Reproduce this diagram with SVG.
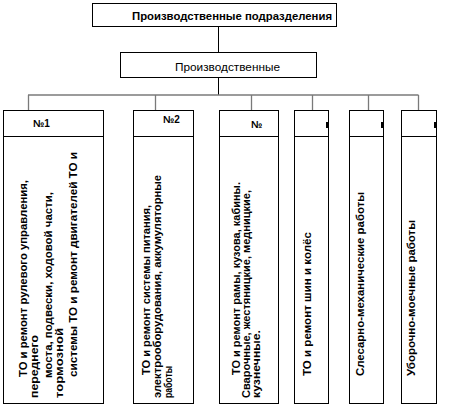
<svg xmlns="http://www.w3.org/2000/svg" width="463" height="409" viewBox="0 0 463 409">
<style>
.box{fill:#fff;stroke:#000;stroke-width:1}
.sep{stroke:#000;stroke-width:1}
.t{font-family:"Liberation Sans",Arial,sans-serif;fill:#000}
.b{font-weight:bold;font-size:10px}
.v{font-weight:bold;font-size:10px}
.r{font-size:11px}
.conn line{stroke:#7a7a7a;stroke-width:1.3}
.conn line.k{stroke:#000;stroke-width:1}
</style>
<rect width="463" height="409" fill="#fff"/>
<g id="connectors" class="conn">
<line class="k" x1="218.5" y1="27" x2="218.5" y2="52"/>
<line class="k" x1="218.5" y1="78" x2="218.5" y2="95"/>
<line x1="28" y1="95" x2="418.5" y2="95"/>
<line x1="28.5" y1="95" x2="28.5" y2="110"/>
<line x1="155.5" y1="95" x2="155.5" y2="110"/>
<line x1="251.5" y1="95" x2="251.5" y2="110"/>
<line x1="312.5" y1="95" x2="312.5" y2="110"/>
<line x1="368.5" y1="95" x2="368.5" y2="110"/>
<line x1="418.5" y1="95" x2="418.5" y2="110"/>
</g>
<g id="top">
<rect class="box" x="92.5" y="3.5" width="244" height="23"/>
<text class="t b" x="132" y="20" textLength="200" lengthAdjust="spacingAndGlyphs">Производственные  подразделения</text>
</g>
<g id="prod">
<rect class="box" x="120.5" y="52.5" width="196" height="25"/>
<text class="t r" x="175" y="71" textLength="105" lengthAdjust="spacingAndGlyphs">Производственные</text>
</g>
<g id="n1">
<rect class="box" x="3.5" y="110.5" width="100" height="293"/>
<line class="sep" x1="3.5" y1="136.5" x2="103.5" y2="136.5"/>
<text class="t b" x="33" y="127">№1</text>
<text class="t v" transform="translate(27,377) rotate(-90)" textLength="197" lengthAdjust="spacingAndGlyphs">ТО и ремонт рулевого управления,</text>
<text class="t v" transform="translate(38,398) rotate(-90)" textLength="63" lengthAdjust="spacingAndGlyphs">переднего</text>
<text class="t v" transform="translate(52,378) rotate(-90)" textLength="186" lengthAdjust="spacingAndGlyphs">моста, подвески, ходовой части,</text>
<text class="t v" transform="translate(63,398) rotate(-90)" textLength="70" lengthAdjust="spacingAndGlyphs">тормозной</text>
<text class="t v" transform="translate(77,377) rotate(-90)" textLength="225" lengthAdjust="spacingAndGlyphs">системы ТО и ремонт двигателей ТО и</text>
</g>
<g id="n2">
<rect class="box" x="133.5" y="110.5" width="60" height="293"/>
<line class="sep" x1="133.5" y1="136.5" x2="193.5" y2="136.5"/>
<text class="t b" x="163" y="123">№2</text>
<text class="t v" transform="translate(150,375) rotate(-90)" textLength="170" lengthAdjust="spacingAndGlyphs">ТО и ремонт системы питания,</text>
<text class="t v" transform="translate(161,398) rotate(-90)" textLength="223" lengthAdjust="spacingAndGlyphs">электрооборудования, аккумуляторные</text>
<text class="t v" transform="translate(172,398) rotate(-90)" textLength="32" lengthAdjust="spacingAndGlyphs">работы</text>
</g>
<g id="n3">
<rect class="box" x="219.5" y="110.5" width="59" height="293"/>
<line class="sep" x1="219.5" y1="136.5" x2="278.5" y2="136.5"/>
<text class="t b" x="251" y="128">№</text>
<text class="t v" transform="translate(240,375) rotate(-90)" textLength="193" lengthAdjust="spacingAndGlyphs">ТО и ремонт рамы, кузова, кабины.</text>
<text class="t v" transform="translate(250,398) rotate(-90)" textLength="208" lengthAdjust="spacingAndGlyphs">Сварочные, жестяницкие, медницкие,</text>
<text class="t v" transform="translate(260,398) rotate(-90)" textLength="68" lengthAdjust="spacingAndGlyphs">кузнечные.</text>
</g>
<g id="n4">
<rect class="box" x="294.5" y="110.5" width="34" height="293"/>
<line class="sep" x1="294.5" y1="136.5" x2="328.5" y2="136.5"/>
<rect x="326" y="122" width="2" height="6" fill="#000"/>
<text class="t v" transform="translate(311,376) rotate(-90)" textLength="144" lengthAdjust="spacingAndGlyphs">ТО и ремонт шин и колёс</text>
</g>
<g id="n5">
<rect class="box" x="349.5" y="110.5" width="34" height="293"/>
<line class="sep" x1="349.5" y1="136.5" x2="383.5" y2="136.5"/>
<rect x="381" y="122" width="2" height="6" fill="#000"/>
<text class="t v" transform="translate(364,376) rotate(-90)" textLength="184" lengthAdjust="spacingAndGlyphs">Слесарно-механические  работы</text>
</g>
<g id="n6">
<rect class="box" x="401.5" y="110.5" width="35" height="293"/>
<line class="sep" x1="401.5" y1="136.5" x2="436.5" y2="136.5"/>
<rect x="434" y="122" width="2" height="6" fill="#000"/>
<text class="t v" transform="translate(415,376) rotate(-90)" textLength="156" lengthAdjust="spacingAndGlyphs">Уборочно-моечные работы</text>
</g>
</svg>
